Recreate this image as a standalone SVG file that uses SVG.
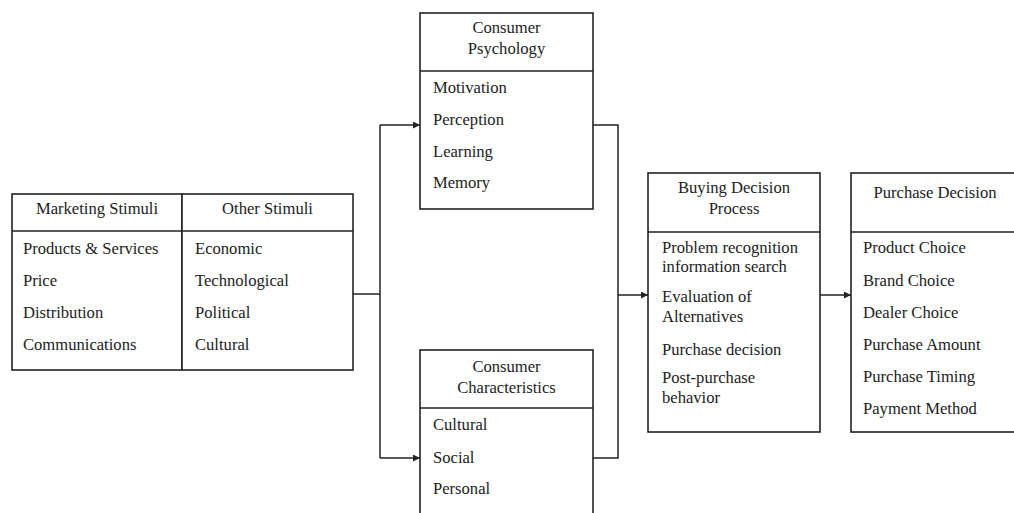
<svg xmlns="http://www.w3.org/2000/svg" width="1014" height="513" viewBox="0 0 1014 513">
  <style>
    .box { fill: #ffffff; stroke: #222; stroke-width: 1.6; }
    .rule { stroke: #222; stroke-width: 1.6; }
    .wire { fill: none; stroke: #222; stroke-width: 1.5; }
    text { font-family: "Liberation Serif", "Times New Roman", serif; font-size: 16.6px; fill: #222; }
    .head { text-anchor: middle; }
  </style>
  <defs>
    <marker id="arrow" viewBox="0 0 10 10" refX="10" refY="5" markerWidth="8" markerHeight="7" markerUnits="userSpaceOnUse" orient="auto">
      <path d="M0,0 L10,5 L0,10 Z" fill="#222"/>
    </marker>
  </defs>
  <rect width="1014" height="513" fill="#ffffff"/>

  <!-- Stimuli table: two columns sharing one frame -->
  <g id="marketing-stimuli">
    <rect class="box" x="12" y="194" width="170" height="176"/>
    <line class="rule" x1="12" y1="231" x2="182" y2="231"/>
    <text class="head" x="97" y="214">Marketing Stimuli</text>
    <text x="23" y="254">Products &amp; Services</text>
    <text x="23" y="286">Price</text>
    <text x="23" y="318">Distribution</text>
    <text x="23" y="350">Communications</text>
  </g>
  <g id="other-stimuli">
    <rect class="box" x="182" y="194" width="171" height="176"/>
    <line class="rule" x1="182" y1="231" x2="353" y2="231"/>
    <text class="head" x="267.5" y="214">Other Stimuli</text>
    <text x="195" y="254">Economic</text>
    <text x="195" y="286">Technological</text>
    <text x="195" y="318">Political</text>
    <text x="195" y="350">Cultural</text>
  </g>

  <g id="consumer-psychology">
    <rect class="box" x="420" y="13" width="173" height="196"/>
    <line class="rule" x1="420" y1="71" x2="593" y2="71"/>
    <text class="head" x="506.5" y="33">Consumer</text>
    <text class="head" x="506.5" y="54">Psychology</text>
    <text x="433" y="93">Motivation</text>
    <text x="433" y="125">Perception</text>
    <text x="433" y="157">Learning</text>
    <text x="433" y="188">Memory</text>
  </g>

  <g id="consumer-characteristics">
    <rect class="box" x="420" y="350" width="173" height="180"/>
    <line class="rule" x1="420" y1="408" x2="593" y2="408"/>
    <text class="head" x="506.5" y="372">Consumer</text>
    <text class="head" x="506.5" y="393">Characteristics</text>
    <text x="433" y="430">Cultural</text>
    <text x="433" y="463">Social</text>
    <text x="433" y="494">Personal</text>
  </g>

  <g id="buying-decision-process">
    <rect class="box" x="648" y="173" width="172" height="259"/>
    <line class="rule" x1="648" y1="232" x2="820" y2="232"/>
    <text class="head" x="734" y="193">Buying Decision</text>
    <text class="head" x="734" y="214">Process</text>
    <text x="662" y="253">Problem recognition</text>
    <text x="662" y="272">information search</text>
    <text x="662" y="302">Evaluation of</text>
    <text x="662" y="322">Alternatives</text>
    <text x="662" y="355">Purchase decision</text>
    <text x="662" y="383">Post-purchase</text>
    <text x="662" y="403">behavior</text>
  </g>

  <g id="purchase-decision">
    <rect class="box" x="851" y="173" width="172" height="259"/>
    <line class="rule" x1="851" y1="232" x2="1023" y2="232"/>
    <text class="head" x="935" y="198">Purchase Decision</text>
    <text x="863" y="253">Product Choice</text>
    <text x="863" y="286">Brand Choice</text>
    <text x="863" y="318">Dealer Choice</text>
    <text x="863" y="350">Purchase Amount</text>
    <text x="863" y="382">Purchase Timing</text>
    <text x="863" y="414">Payment Method</text>
  </g>

  <g id="connectors">
    <!-- stimuli fan out to both consumer boxes -->
    <path class="wire" d="M353,294 H380"/>
    <path class="wire" d="M380,125 V458"/>
    <path class="wire" d="M380,125 H420" marker-end="url(#arrow)"/>
    <path class="wire" d="M380,458 H420" marker-end="url(#arrow)"/>
    <!-- consumer boxes merge into the decision process -->
    <path class="wire" d="M593,125 H618 V458 H593"/>
    <path class="wire" d="M618,295 H648" marker-end="url(#arrow)"/>
    <path class="wire" d="M820,295 H851" marker-end="url(#arrow)"/>
  </g>
</svg>
